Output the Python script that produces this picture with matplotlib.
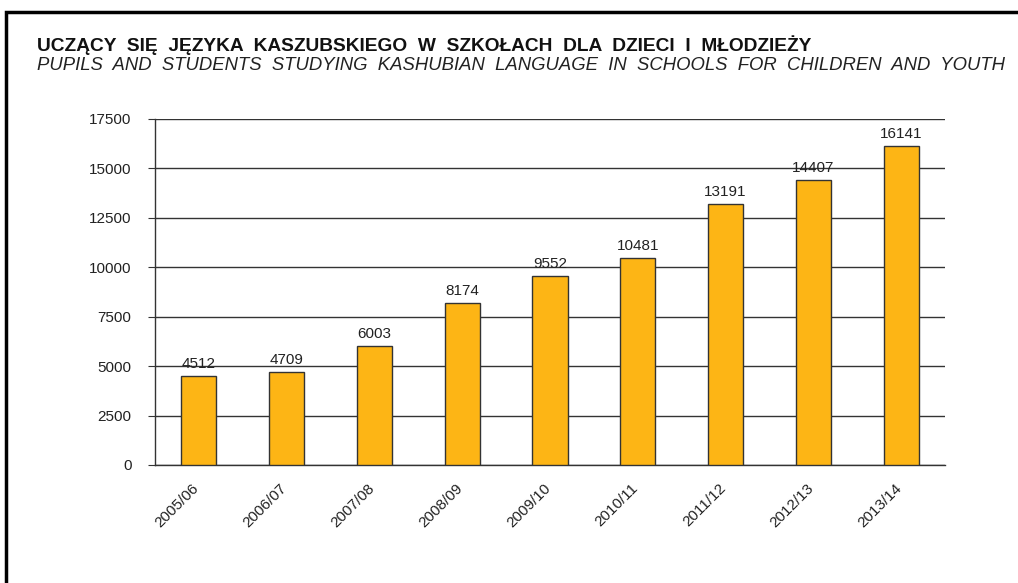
import matplotlib
matplotlib.use("Agg")
import matplotlib.pyplot as plt
from matplotlib.patches import Rectangle
from matplotlib.transforms import ScaledTranslation

plt.rcParams['font.family'] = ['Liberation Sans', 'DejaVu Sans']

years = ["2005/06", "2006/07", "2007/08", "2008/09", "2009/10",
         "2010/11", "2011/12", "2012/13", "2013/14"]
pupils = [4512, 4709, 6003, 8174, 9552, 10481, 13191, 14407, 16141]
yticks = [0, 2500, 5000, 7500, 10000, 12500, 15000, 17500]

title_pl = "UCZĄCY SIĘ JĘZYKA KASZUBSKIEGO W SZKOŁACH DLA DZIECI I MŁODZIEŻY"
title_en = "PUPILS AND STUDENTS STUDYING KASHUBIAN LANGUAGE IN SCHOOLS FOR CHILDREN AND YOUTH"

fig = plt.figure(figsize=(10.18, 5.83), dpi=100)

# outer frame
fig.patches.append(Rectangle((5.5/1018, -0.05), 1.1, 1 - 11.5/583 + 0.05,
                             transform=fig.transFigure, fill=False,
                             edgecolor='black', linewidth=2.5))

ax = fig.add_axes([155/1018, 1 - 465/583, 790/1018, (465 - 119)/583])
x = range(len(years))
ax.bar(x, pupils, width=0.4, color='#FDB515', edgecolor='#333333',
       linewidth=1.0, zorder=3)
for xi, v in zip(x, pupils):
    ax.text(xi, v + 250, str(v), ha='center', va='bottom', fontsize=11,
            color='#222222')

ax.set_xlim(-0.5, len(years) - 0.5)
ax.set_ylim(0, 17500)
ax.set_yticks(yticks)
ax.set_yticklabels([str(t) for t in yticks], fontsize=11, color='#222222')
ax.yaxis.grid(True, color='#333333', linewidth=1.0, zorder=0)
ax.set_xticks(list(x))
ax.set_xticklabels(years, rotation=45, ha='right', va='center',
                   rotation_mode='anchor', fontsize=11, color='#222222')
ax.tick_params(axis='x', length=0, pad=15)
ax.tick_params(axis='y', length=5, color='#333333', pad=12)
off = ScaledTranslation(-2/100, 0, fig.dpi_scale_trans)
for lab in ax.get_xticklabels():
    lab.set_transform(lab.get_transform() + off)
for s in ['top', 'right']:
    ax.spines[s].set_visible(False)
for s in ['left', 'bottom']:
    ax.spines[s].set_color('#333333')
    ax.spines[s].set_linewidth(1.0)

fig.text(37/1018, 1 - 45/583, title_pl.replace(" ", "  "), fontsize=13.8,
         fontweight='bold', va='center', ha='left', color='#111111')
fig.text(37/1018, 1 - 66/583, title_en.replace(" ", "  "), fontsize=13.3,
         fontstyle='italic', va='center', ha='left', color='#222222')

fig.savefig("out.png", dpi=100)
